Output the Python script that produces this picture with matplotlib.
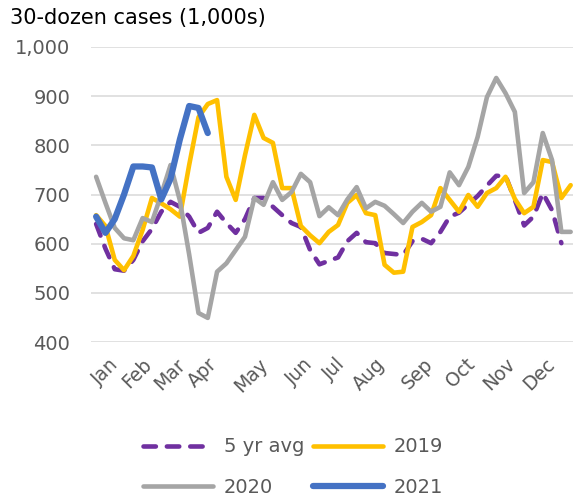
import matplotlib
matplotlib.use("Agg")
import matplotlib.pyplot as plt
import numpy as np

plt.rcParams['font.family'] = ['DejaVu Sans']

weeks = np.arange(52)

avg5 = [640, 590, 548, 545, 567, 605, 630, 665, 685, 675, 655, 622, 632, 665,
        642, 622, 650, 693, 693, 675, 658, 642, 634, 587, 558, 565, 572, 605,
        622, 603, 601, 581, 579, 577, 605, 610, 601, 624, 655, 663, 680, 697,
        718, 738, 738, 689, 637, 655, 703, 668, 601]

y2019 = [658, 636, 567, 546, 575, 628, 693, 682, 670, 655, 760, 857, 884, 892,
         736, 689, 780, 862, 815, 805, 713, 713, 636, 617, 601, 624, 638, 683,
         699, 662, 658, 557, 541, 543, 634, 644, 658, 713, 689, 665, 699, 675,
         703, 713, 736, 691, 662, 675, 770, 766, 693, 719]

y2020 = [736, 683, 632, 611, 607, 652, 644, 700, 760, 688, 578, 459, 449, 543,
         560, 587, 614, 693, 679, 725, 689, 705, 742, 725, 656, 674, 658, 690,
         715, 672, 685, 677, 660, 642, 665, 683, 665, 675, 745, 719, 756, 817,
         898, 937, 906, 868, 703, 725, 825, 770, 624, 624]

y2021 = [655, 622, 650, 700, 757, 757, 755, 690, 732, 812, 880, 876, 825]

month_labels = ['Jan', 'Feb', 'Mar', 'Apr', 'May', 'Jun', 'Jul', 'Aug', 'Sep',
                'Oct', 'Nov', 'Dec']
month_pos = [2.1, 5.7, 9.3, 12.7, 18.1, 23.0, 26.4, 30.7, 35.9, 40.4, 44.7, 49.0]

yticks = [400, 500, 600, 700, 800, 900, 1000]

fig = plt.figure(figsize=(5.73, 5.0), dpi=100)
ax = fig.add_axes([91/573, 1 - 342/500, 1 - 91/573, (342 - 47)/500])

lw = 3.3
l_avg, = ax.plot(weeks[:len(avg5)], avg5, color='#7030A0', lw=lw,
                 ls=(0, (2.7, 2.4)), dash_capstyle='round',
                 solid_joinstyle='round', label='5 yr avg', zorder=3)
l19, = ax.plot(weeks[:len(y2019)], y2019, color='#FFC000', lw=lw,
               solid_joinstyle='round', solid_capstyle='round', label='2019', zorder=4)
l20, = ax.plot(weeks[:len(y2020)], y2020, color='#A5A5A5', lw=lw,
               solid_joinstyle='round', solid_capstyle='round', label='2020', zorder=5)
l21, = ax.plot(weeks[:len(y2021)], y2021, color='#4472C4', lw=4.5,
               solid_joinstyle='round', solid_capstyle='round', label='2021', zorder=6)

ax.set_xlim(-0.55, 51.25)
ax.set_ylim(400, 1000)
ax.set_yticks(yticks)
ax.set_yticklabels([f'{v:,}' for v in yticks])
ax.yaxis.grid(True, color='#D9D9D9', lw=1.1)
ax.set_axisbelow(True)
for s in ax.spines.values():
    s.set_visible(False)
ax.tick_params(axis='y', length=0, pad=15, labelsize=14, labelcolor='#595959')

ax.set_xticks(month_pos)
ax.set_xticklabels(month_labels, rotation=45, ha='right', va='center',
                   rotation_mode='anchor')
ax.tick_params(axis='x', length=0, pad=14, labelsize=13.5, labelcolor='#595959')

fig.text(10/573, 1 - 18/500, '30-dozen cases (1,000s)', fontsize=15,
         color='#000000', ha='left', va='center')

leg = fig.legend([l_avg, l20, l19, l21], ['5 yr avg', '2020', '2019', '2021'],
                 ncol=2, loc='center', bbox_to_anchor=(0.511, 0.066),
                 frameon=False, fontsize=14, handlelength=3.6,
                 handletextpad=0.55, columnspacing=0.45, labelspacing=1.1,
                 labelcolor='#595959')

fig.savefig('out.png', dpi=100)
